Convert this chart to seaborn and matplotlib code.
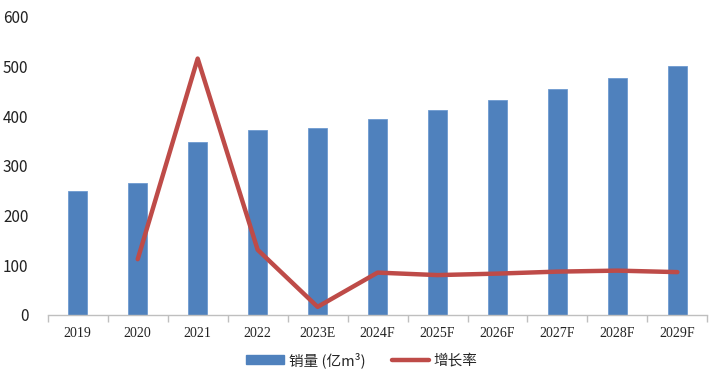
import numpy as np
import pandas as pd
import seaborn as sns
import matplotlib.pyplot as plt
from matplotlib.patches import Patch
from matplotlib.lines import Line2D

# datos
years = ['2019', '2020', '2021', '2022', '2023E', '2024F', '2025F',
         '2026F', '2027F', '2028F', '2029F']
sales = [250, 266, 347, 372, 376, 394, 413, 432, 454, 477, 501]
growth_years = ['2020', '2021', '2022', '2023E', '2024F', '2025F',
                '2026F', '2027F', '2028F', '2029F']
growth = [112, 516, 131, 16, 85, 80, 83, 87, 89, 86]

bar_color = '#4F81BD'
line_color = '#BE4B48'

sns.set_theme(style='white')
plt.rcParams['font.family'] = ['Noto Sans CJK SC', 'DejaVu Sans']

df = pd.DataFrame({'year': years, 'sales': sales})
df_g = pd.DataFrame({'pos': [years.index(y) for y in growth_years], 'growth': growth})

fig = plt.figure(figsize=(7.24, 3.83), dpi=100)
ax = fig.add_axes([0.066, 0.178, 0.911, 0.778])

sns.barplot(data=df, x='year', y='sales', color=bar_color, width=0.32,
            saturation=1, edgecolor='#6F9AD0', linewidth=0.6, ax=ax)
sns.lineplot(data=df_g, x='pos', y='growth', color=line_color, linewidth=3.2,
             ax=ax, legend=False)

ax.set_xlim(-0.5, len(years) - 0.5)
ax.set_ylim(0, 600)
ax.set_yticks(range(0, 601, 100))
ax.set_xlabel('')
ax.set_ylabel('')

for s in ['top', 'right', 'left']:
    ax.spines[s].set_visible(False)
ax.spines['bottom'].set_color('#BFBFBF')
ax.spines['bottom'].set_linewidth(1)

ax.set_xticks(range(len(years)))
ax.set_xticklabels(years, fontfamily='Liberation Serif', fontsize=10, color='#222222')
ax.set_xticks(np.arange(-0.5, len(years), 1), minor=True)
ax.tick_params(axis='x', which='major', length=0, pad=9)
ax.tick_params(axis='x', which='minor', length=5, color='#BFBFBF', width=1, bottom=True)
ax.tick_params(axis='y', length=0, pad=14, labelsize=11, labelcolor='#222222')

handles = [Patch(facecolor=bar_color, edgecolor=bar_color),
           Line2D([0], [0], color=line_color, linewidth=3.2)]
fig.legend(handles, ['销量 (亿m³)', '增长率'], loc='center', bbox_to_anchor=(0.5, 0.06),
           ncol=2, frameon=False, fontsize=10.5, handlelength=2.6, handleheight=0.6,
           columnspacing=1.8, handletextpad=0.3)

plt.savefig('out.png', dpi=100)
